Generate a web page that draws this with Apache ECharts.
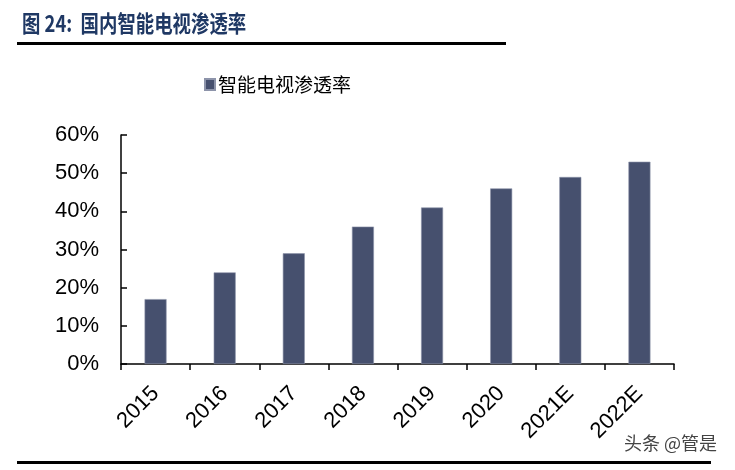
<!DOCTYPE html>
<html><head><meta charset="utf-8">
<script src="https://cdn.jsdelivr.net/npm/echarts@6/dist/echarts.min.js"></script>
<style>html,body{margin:0;padding:0;background:#fff}#c{width:735px;height:470px}</style>
</head><body><div id="c"></div>
<script>
const categories = ['2015','2016','2017','2018','2019','2020','2021E','2022E'];
const penetration = [17, 24, 29, 36, 41, 46, 49, 53];
const yTicks = [0, 10, 20, 30, 40, 50, 60];
const seriesName = '智能电视渗透率';
const titleText = '图 24:  国内智能电视渗透率';
const watermark = '头条 @管是';

const chart = echarts.init(document.getElementById('c'));
chart.setOption({
  animation: false,
  backgroundColor: '#fff',
  legend: {
    data: [seriesName], top: 70, left: 199, itemWidth: 10, itemHeight: 11, itemGap: 4,
    icon: 'rect',
    textStyle: { fontFamily: 'Noto Sans CJK SC', fontSize: 19, color: '#000', padding: [0,0,0,-2] }
  },
  grid: { left: 121, right: 61, top: 135, bottom: 106, containLabel: false },
  xAxis: {
    type: 'category', data: categories,
    axisLine: { lineStyle: { color: '#000', width: 1.5 } },
    axisTick: { show: true, length: 6, lineStyle: { color: '#000', width: 1.5 } },
    axisLabel: { rotate: 45, fontFamily: 'Liberation Sans', fontSize: 22, color: '#000', margin: 26, interval: 0 }
  },
  yAxis: {
    type: 'value', min: 0, max: 60, interval: 10,
    splitLine: { show: false },
    axisLine: { show: true, lineStyle: { color: '#000', width: 1.5 } },
    axisTick: { show: true, inside: true, length: 6, lineStyle: { color: '#000', width: 1.5 } },
    axisLabel: { formatter: v => yTicks.includes(v) ? v + '%' : '', fontFamily: 'Liberation Sans', fontSize: 22, color: '#000', margin: 22 }
  },
  series: [{
    name: seriesName, type: 'bar', data: penetration, barWidth: 22,
    itemStyle: { color: '#46506e', borderColor: '#8d94aa', borderWidth: 0.6 }
  }],
  graphic: [
    { type: 'text', x: 22, y: 12, scaleX: 0.8, style: { text: titleText, fontFamily: 'Noto Sans CJK SC', fontWeight: 'bold', fontSize: 23, fill: '#1f3864' } },
    { type: 'rect', shape: { x: 17, y: 42, width: 489, height: 3 }, style: { fill: '#000' } },
    { type: 'rect', shape: { x: 17, y: 461, width: 694, height: 3 }, style: { fill: '#000' } },
    { type: 'text', left: 624, top: 434, style: { text: watermark, fontFamily: 'Noto Sans CJK SC', fontSize: 18, fill: '#444' } }
  ]
});
</script></body></html>
